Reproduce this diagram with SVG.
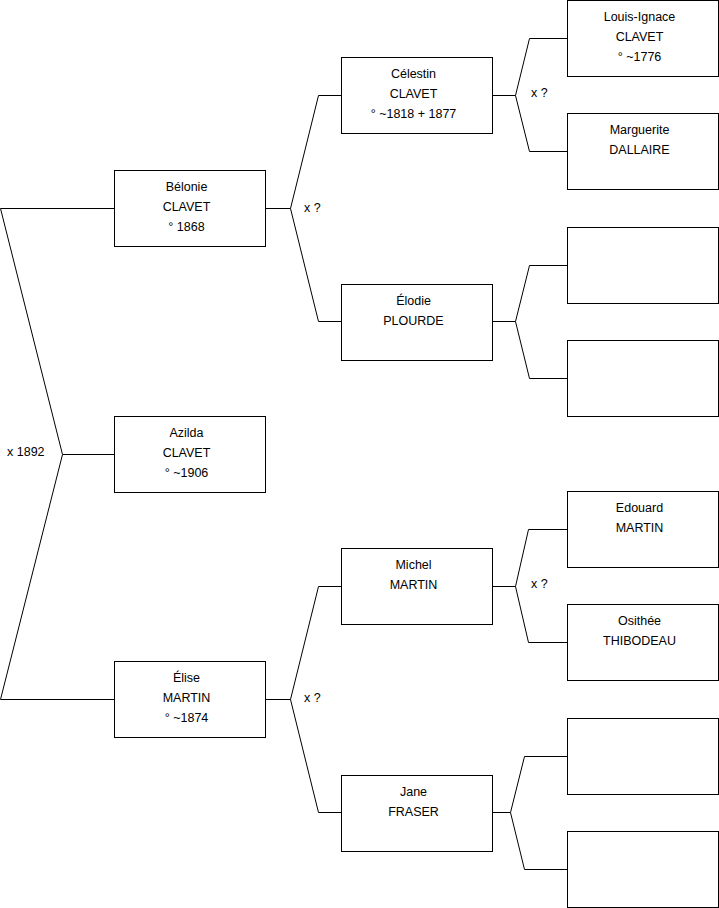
<svg xmlns="http://www.w3.org/2000/svg" width="719" height="908" viewBox="0 0 719 908">
<style>
rect{fill:#fff;stroke:#000;stroke-width:1}
.c path{fill:none;stroke:#000;stroke-width:1}
text{font-family:"Liberation Sans",Arial,sans-serif;font-size:12.5px;fill:#000}
.n text{text-anchor:middle}
</style>
<rect x="0" y="0" width="719" height="908" style="stroke:none"/>
<g class="c" id="connectors">
<path d="M114.5,454.5H62.5L0.5,208.5H114.5M62.5,454.5L0.5,699.5H114.5"/>
<path d="M265,208.5H290.5L318.5,95.5H341M290.5,208.5L318.5,321.5H341"/>
<path d="M265,699.5H290.5L318.5,586.5H341M290.5,699.5L318.5,812.5H341"/>
<path d="M492,95.5H515.5L529.5,38.5H567M515.5,95.5L529.5,151.5H567"/>
<path d="M492,321.5H515.5L529.5,265.5H567M515.5,321.5L529.5,378.5H567"/>
<path d="M492,586.5H515.5L528.5,529.5H567M515.5,586.5L528.5,642.5H567"/>
<path d="M492,812.5H510.5L524.5,756.5H567M510.5,812.5L524.5,869.5H567"/>
<text x="7" y="456">x 1892</text>
<text x="304" y="212">x ?</text>
<text x="304" y="702">x ?</text>
<text x="531" y="97">x ?</text>
<text x="531" y="588">x ?</text>
</g>
<g class="n" id="belonie"><rect x="114.5" y="170.5" width="151" height="76"/><text x="186.5" y="191">Bélonie</text><text x="186.5" y="211">CLAVET</text><text x="186.5" y="231">° 1868</text></g>
<g class="n" id="azilda"><rect x="114.5" y="416.5" width="151" height="76"/><text x="186.5" y="437">Azilda</text><text x="186.5" y="457">CLAVET</text><text x="186.5" y="477">° ~1906</text></g>
<g class="n" id="elise"><rect x="114.5" y="661.5" width="151" height="76"/><text x="186.5" y="682">Élise</text><text x="186.5" y="702">MARTIN</text><text x="186.5" y="722">° ~1874</text></g>
<g class="n" id="celestin"><rect x="341.5" y="57.5" width="151" height="76"/><text x="413.5" y="78">Célestin</text><text x="413.5" y="98">CLAVET</text><text x="413.5" y="118">° ~1818 + 1877</text></g>
<g class="n" id="elodie"><rect x="341.5" y="284.5" width="151" height="76"/><text x="413.5" y="305">Élodie</text><text x="413.5" y="325">PLOURDE</text></g>
<g class="n" id="michel"><rect x="341.5" y="548.5" width="151" height="76"/><text x="413.5" y="569">Michel</text><text x="413.5" y="589">MARTIN</text></g>
<g class="n" id="jane"><rect x="341.5" y="775.5" width="151" height="76"/><text x="413.5" y="796">Jane</text><text x="413.5" y="816">FRASER</text></g>
<g class="n" id="louis-ignace"><rect x="567.5" y="0.5" width="151" height="76"/><text x="639.5" y="21">Louis-Ignace</text><text x="639.5" y="41">CLAVET</text><text x="639.5" y="61">° ~1776</text></g>
<g class="n" id="marguerite"><rect x="567.5" y="113.5" width="151" height="76"/><text x="639.5" y="134">Marguerite</text><text x="639.5" y="154">DALLAIRE</text></g>
<g class="n" id="empty1"><rect x="567.5" y="227.5" width="151" height="76"/></g>
<g class="n" id="empty2"><rect x="567.5" y="340.5" width="151" height="76"/></g>
<g class="n" id="edouard"><rect x="567.5" y="491.5" width="151" height="76"/><text x="639.5" y="512">Edouard</text><text x="639.5" y="532">MARTIN</text></g>
<g class="n" id="osithee"><rect x="567.5" y="604.5" width="151" height="76"/><text x="639.5" y="625">Osithée</text><text x="639.5" y="645">THIBODEAU</text></g>
<g class="n" id="empty3"><rect x="567.5" y="718.5" width="151" height="76"/></g>
<g class="n" id="empty4"><rect x="567.5" y="831.5" width="151" height="76"/></g>
</svg>
